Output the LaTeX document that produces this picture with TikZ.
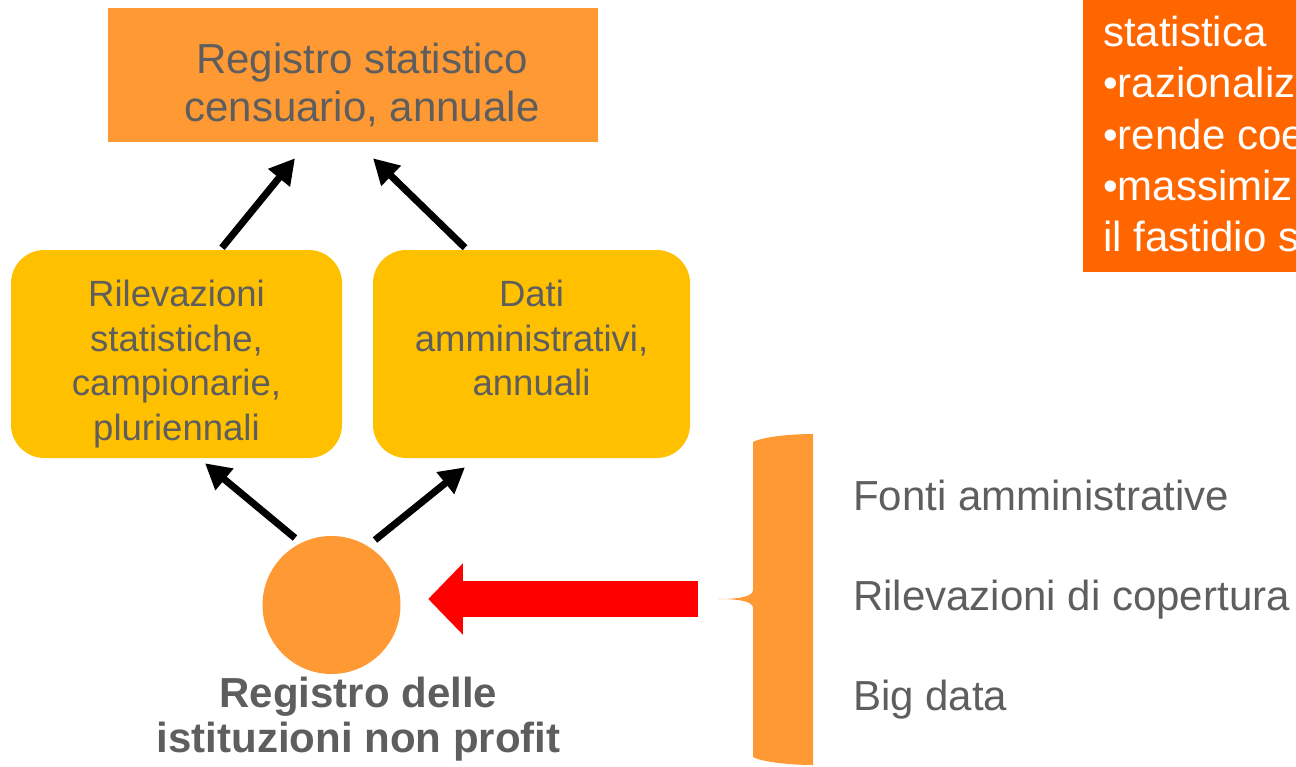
\documentclass[tikz,border=0pt]{standalone}
\usepackage{fontspec}
\setmainfont{Liberation Sans}
\usepackage{tikz}
\usetikzlibrary{arrows.meta,calc}

\definecolor{regorange}{HTML}{FF9933}
\definecolor{srcyellow}{HTML}{FFC000}
\definecolor{noteorange}{HTML}{FF6600}
\definecolor{txtgray}{HTML}{5E5E5E}

\begin{document}
\begin{tikzpicture}[x=0.75pt,y=-0.75pt,
    regbox/.style={fill=regorange, inner sep=0pt, minimum width=367.5pt, minimum height=100.5pt},
    srcbox/.style={fill=srcyellow, rounded corners=25pt, inner sep=0pt, minimum height=156pt},
    bigtxt/.style={text=txtgray, inner sep=0pt, align=center, font=\fontsize{31.5}{36}\selectfont},
    boxtxt/.style={text=txtgray, inner sep=0pt, align=center, font=\fontsize{27.4}{33.3}\selectfont},
    notetxt/.style={text=white, inner sep=0pt, anchor=base west, font=\fontsize{31.5}{36}\selectfont},
    link/.style={line width=5.25pt, -{Triangle[length=19pt,width=20pt]}},
    redlink/.style={draw=red, line width=27pt, -{Triangle[length=26pt,width=52pt]}},
  ]
    % Page frame
    \clip (0,0) rectangle (1296,767);

    % Census register at the top
    \node[regbox] (reg) at (353,75) {};
    \node[bigtxt] (regtxt) at (362,84.5) {Registro statistico\\censuario, annuale};

    % The two sources feeding it
    \node[srcbox, minimum width=248.25pt] (rilev) at (176.5,354) {};
    \node[boxtxt] (rilevtxt) at (176.5,364) {Rilevazioni\\statistiche,\\campionarie,\\pluriennali};
    \node[srcbox, minimum width=237.75pt] (dati) at (531.5,354) {};
    \node[boxtxt] (datitxt) at (531.5,338) {Dati\\amministrativi,\\annuali};

    % Non profit register
    \node[circle, fill=regorange, inner sep=0pt, minimum size=103.5pt] (cir) at (331.5,605) {};
    \node[bigtxt, font=\fontsize{31.5}{33.75}\selectfont\bfseries] (cirlab) at (358.5,719.5)
        {Registro delle\\istituzioni non profit};

    % Arrows between the boxes
    \draw[link] ($(rilev.north)+(45.5,-2)$) -- ($(reg.south)+(-58,16)$);
    \draw[link] ($(dati.north)+(-66.5,-2)$) -- ($(reg.south)+(20,16)$);
    \draw[link] ($(cir.center)+(-36.5,-67)$) -- ($(rilev.south)+(28.5,5)$);
    \draw[link] ($(cir.center)+(43.5,-65)$) -- ($(dati.south)+(-66.5,9)$);

    % Brace grouping the inputs
    \fill[regorange] (813,434) -- (813,765)
        .. controls (790,765) and (762,762) .. (753,757) -- (753,608)
        .. controls (753,601) and (738,599) .. (718,599)
        .. controls (738,599) and (753,597) .. (753,590) -- (753,442)
        .. controls (762,437) and (790,434) .. (813,434) -- cycle;
    \coordinate (bracetip) at (718,599);

    % Big red arrow into the register
    \draw[redlink, shorten >=20.6pt] ($(bracetip)+(-20,0)$) -- (bracetip -| cir.east);

    % Inputs
    \foreach \s [count=\i] in {Fonti amministrative, Rilevazioni di copertura, Big data}
        \node[bigtxt, anchor=base west] (src\i) at (853,410+100*\i) {\s};

    % Note box on the right, cut by the page edge
    \fill[noteorange] (1083,-10) rectangle (1310,272);
    \foreach \t [count=\i] in {statistica, •razionaliz, •rende coe, •massimiz, il fastidio s}
        \node[notetxt] (note\i) at (1103,-4+51*\i) {\t};

\end{tikzpicture}
\end{document}
